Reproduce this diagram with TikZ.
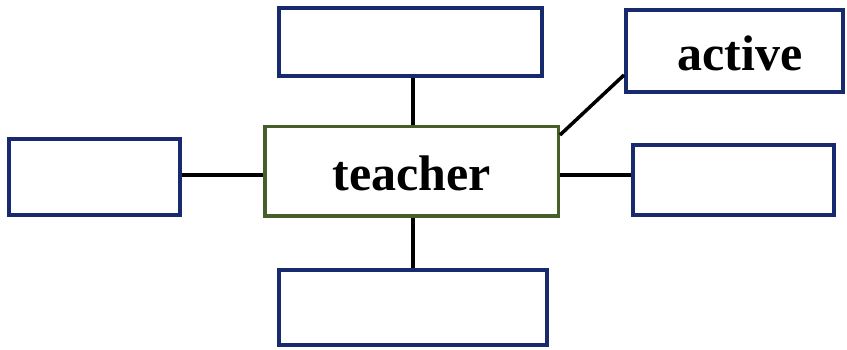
\documentclass[tikz,border=0pt]{standalone}
\usepackage{fontspec}
\setmainfont{Liberation Serif}
\definecolor{navy}{RGB}{24,42,110}
\definecolor{olive}{RGB}{70,94,40}
\begin{document}
\begin{tikzpicture}[x=1pt,y=-1pt,
  box/.style={draw=navy,line width=4pt,rectangle,inner sep=0pt,fill=white},
  centerbox/.style={draw=olive,line width=3.5pt,rectangle,inner sep=0pt,fill=white},
  conn/.style={draw=black,line width=3.5pt},
  lbl/.style={font=\bfseries\fontsize{50}{56}\selectfont}]
\useasboundingbox[fill=white] (0,0) rectangle (847,350);
\node[centerbox,minimum width=293.5pt,minimum height=89.5pt] (teacher) at (411.5,171.5) {};
\node[box,minimum width=263pt,minimum height=68pt] (top) at (410.5,42) {};
\node[box,minimum width=217pt,minimum height=82pt] (active) at (734.5,51) {};
\node[box,minimum width=171pt,minimum height=76pt] (left) at (94.5,177) {};
\node[box,minimum width=201pt,minimum height=70pt] (right) at (733.5,180) {};
\node[box,minimum width=268pt,minimum height=75pt] (bottom) at (413,307.5) {};
\node[lbl] (tlabel) at (411.5,173) {teacher};
\node[lbl] (alabel) at (740,53) {active};
\coordinate (vx) at (413,0);
\coordinate (hy) at (0,175);
\coordinate (d1) at (0,135);
\coordinate (d2) at (0,75);
\draw[conn] (top.south -| vx) -- (teacher.north -| vx);
\draw[conn] (teacher.south -| vx) -- (bottom.north -| vx);
\draw[conn] (left.east |- hy) -- (teacher.west |- hy);
\draw[conn] (teacher.east |- hy) -- (right.west |- hy);
\draw[conn] (teacher.east |- d1) -- (active.west |- d2);
\end{tikzpicture}
\end{document}
